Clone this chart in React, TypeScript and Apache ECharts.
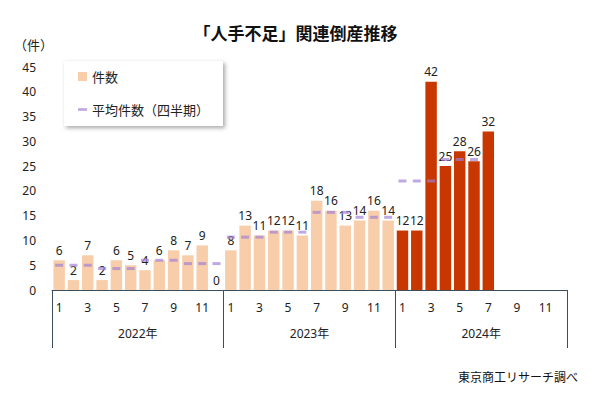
import React, { useEffect, useRef } from "react";
import * as echarts from "echarts";

const months: string[] = [
  "1","2","3","4","5","6","7","8","9","10","11","12",
  "1","2","3","4","5","6","7","8","9","10","11","12",
  "1","2","3","4","5","6","7","8","9","10","11","12",
];
const years: string[] = ["2022年", "2023年", "2024年"];
const counts2022: (number | null)[] = [6, 2, 7, 2, 6, 5, 4, 6, 8, 7, 9, 0];
const counts2023: (number | null)[] = [8, 13, 11, 12, 12, 11, 18, 16, 13, 14, 16, 14];
const counts2024: (number | null)[] = [12, 12, 42, 25, 28, 26, 32, null, null, null, null, null];
const avg2022: (number | null)[] = [5, 5, 5, 4.33, 4.33, 4.33, 6, 6, 6, 5.33, 5.33, 5.33];
const avg2023: (number | null)[] = [10.67, 10.67, 10.67, 11.67, 11.67, 11.67, 15.67, 15.67, 15.67, 14.67, 14.67, 14.67];
const avg2024: (number | null)[] = [22, 22, 22, 26.33, 26.33, 26.33, null, null, null, null, null, null];

const PEACH = "#f8cdaa";
const RED = "#c83700";
const PURPLE = "rgba(160,128,214,0.85)";
const NUM_FONT = "'Noto Sans', 'Noto Sans CJK JP', sans-serif";
const JP_FONT = "'Noto Sans CJK JP', sans-serif";

export default function App() {
  const ref = useRef<HTMLDivElement>(null);
  useEffect(() => {
    if (!ref.current) return;
    const chart = echarts.init(ref.current, undefined, { renderer: "svg" });
    const barData = [
      ...counts2022.map((v) => ({ value: v, itemStyle: { color: PEACH } })),
      ...counts2023.map((v) => ({ value: v, itemStyle: { color: PEACH } })),
      ...counts2024.map((v) => ({ value: v, itemStyle: { color: RED } })),
    ];
    const avgData = [...avg2022, ...avg2023, ...avg2024].map((v, i) => [i, v]).filter((p) => p[1] !== null);
    chart.setOption({
      animation: false,
      backgroundColor: "#ffffff",
      title: {
        text: "「人手不足」関連倒産推移",
        left: "center",
        top: 19,
        textStyle: { fontFamily: JP_FONT, fontSize: 17, fontWeight: "bold", color: "#111" },
      },
      legend: {
        left: 64,
        top: 61,
        orient: "vertical",
        backgroundColor: "#ffffff",
        shadowColor: "rgba(0,0,0,0.35)",
        shadowBlur: 4,
        shadowOffsetX: 2,
        shadowOffsetY: 2,
        padding: [9, 14, 10, 14],
        itemGap: 20,
        itemWidth: 9,
        itemHeight: 9,
        textStyle: { fontFamily: JP_FONT, fontSize: 13, color: "#222" },
        data: [
          { name: "件数", icon: "rect" },
          { name: "平均件数（四半期）", icon: "path://M0,0h10v3h-10z" },
        ],
      },
      grid: { left: 52, right: 24, top: 67, bottom: 104 },
      xAxis: [
        {
          type: "category",
          data: months,
          position: "bottom",
          axisLine: { show: true, lineStyle: { color: "#3d4d5c", width: 1 } },
          axisTick: { show: false },
          axisLabel: {
            interval: 1,
            margin: 11,
            fontFamily: NUM_FONT,
            fontSize: 12,
            color: "#222",
          },
        },
        {
          type: "category",
          data: years,
          position: "bottom",
          axisLine: { show: false },
          axisTick: { show: true, length: 58, lineStyle: { color: "#3d4d5c", width: 1 } },
          axisLabel: {
            margin: 37,
            fontFamily: NUM_FONT,
            fontSize: 12,
            color: "#222",
          },
        },
      ],
      yAxis: {
        type: "value",
        min: 0,
        max: 45,
        interval: 5,
        axisLine: { show: false },
        axisTick: { show: false },
        splitLine: { show: false },
        axisLabel: { margin: 16, fontFamily: NUM_FONT, fontSize: 12, color: "#222" },
      },
      series: [
        {
          name: "件数",
          type: "bar",
          xAxisIndex: 0,
          barWidth: "80%",
          itemStyle: { color: PEACH },
          data: barData,
          label: {
            show: true,
            position: "top",
            distance: 4,
            fontFamily: NUM_FONT,
            fontSize: 12,
            color: "#222",
          },
        },
        {
          name: "平均件数（四半期）",
          type: "scatter",
          xAxisIndex: 0,
          data: avgData,
          symbol: "rect",
          symbolSize: [8, 3],
          itemStyle: { color: PURPLE },
          z: 3,
        },
      ],
      graphic: [
        {
          type: "text",
          left: 14,
          top: 38,
          style: { text: "（件）", fontFamily: JP_FONT, fontSize: 13, fill: "#222" },
        },
        {
          type: "text",
          right: 13,
          top: 370,
          style: { text: "東京商工リサーチ調べ", fontFamily: JP_FONT, fontSize: 12, fill: "#111" },
        },
      ],
    });
    return () => chart.dispose();
  }, []);
  return (
    <div
      ref={ref}
      style={{ position: "fixed", left: 0, top: 0, width: 591, height: 394 }}
    />
  );
}
